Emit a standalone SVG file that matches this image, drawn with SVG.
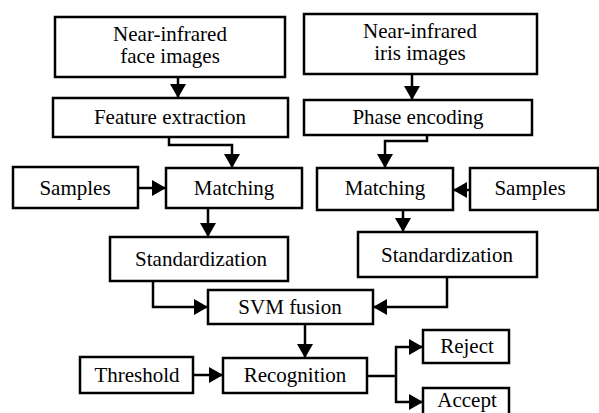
<svg xmlns="http://www.w3.org/2000/svg" width="599" height="413" viewBox="0 0 599 413" font-family="Liberation Serif, DejaVu Serif, serif">
  <style>
    .box { fill: #fff; stroke: #000; stroke-width: 2.5; }
    .lbl { font-family: 'Liberation Serif', 'DejaVu Serif', serif; font-size: 21px; fill: #000; text-anchor: middle; }
    .wire { fill: none; stroke: #000; stroke-width: 2.5; marker-end: url(#head); }
  </style>
  <defs>
    <marker id="head" markerUnits="userSpaceOnUse" markerWidth="14" markerHeight="16" refX="14" refY="8" orient="auto">
      <path d="M0,0 L14,8 L0,16 z" fill="#000"/>
    </marker>
  </defs>

  <rect width="599" height="413" fill="#fff"/>

  <g id="connectors">
    <path class="wire" d="M178,77 V98"/>
    <path class="wire" d="M169,137 V145 H232 V168"/>
    <path class="wire" d="M138,188 H166"/>
    <path class="wire" d="M208,208 V237"/>
    <path class="wire" d="M153,281 V307 H208"/>
    <path class="wire" d="M412,74 V100"/>
    <path class="wire" d="M427,135 V141 H385 V168"/>
    <path class="wire" d="M470,190 H453"/>
    <path class="wire" d="M403,210 V232"/>
    <path class="wire" d="M447,277 V307 H373"/>
    <path class="wire" d="M305,324 V358"/>
    <path class="wire" d="M193,375 H223"/>
    <path fill="none" stroke="#000" stroke-width="2.5" d="M367,376 H396"/>
    <path class="wire" d="M396,376 V347 H423"/>
    <path class="wire" d="M396,376 V402 H423"/>
  </g>

  <g id="face-images">
    <rect class="box" x="55" y="17" width="230" height="60"/>
    <text class="lbl" x="170" y="41">Near-infrared</text>
    <text class="lbl" x="170" y="63">face images</text>
  </g>
  <g id="feature-extraction">
    <rect class="box" x="53" y="98" width="235" height="39"/>
    <text class="lbl" x="170" y="124">Feature extraction</text>
  </g>
  <g id="samples-left">
    <rect class="box" x="13" y="167" width="125" height="41"/>
    <text class="lbl" x="75" y="195">Samples</text>
  </g>
  <g id="matching-left">
    <rect class="box" x="166" y="168" width="136" height="40"/>
    <text class="lbl" x="234" y="195">Matching</text>
  </g>
  <g id="standardization-left">
    <rect class="box" x="110" y="237" width="178" height="44"/>
    <text class="lbl" x="201" y="266">Standardization</text>
  </g>

  <g id="iris-images">
    <rect class="box" x="304" y="14" width="233" height="60"/>
    <text class="lbl" x="420" y="38">Near-infrared</text>
    <text class="lbl" x="420" y="60">iris images</text>
  </g>
  <g id="phase-encoding">
    <rect class="box" x="304" y="100" width="228" height="35"/>
    <text class="lbl" x="418" y="124">Phase encoding</text>
  </g>
  <g id="matching-right">
    <rect class="box" x="317" y="168" width="136" height="42"/>
    <text class="lbl" x="385" y="195">Matching</text>
  </g>
  <g id="samples-right">
    <rect class="box" x="470" y="168" width="128" height="42"/>
    <text class="lbl" x="530" y="195">Samples</text>
  </g>
  <g id="standardization-right">
    <rect class="box" x="358" y="232" width="179" height="45"/>
    <text class="lbl" x="447" y="262">Standardization</text>
  </g>

  <g id="svm-fusion">
    <rect class="box" x="208" y="290" width="165" height="34"/>
    <text class="lbl" x="290" y="314">SVM fusion</text>
  </g>
  <g id="threshold">
    <rect class="box" x="80" y="357" width="113" height="36"/>
    <text class="lbl" x="137" y="382">Threshold</text>
  </g>
  <g id="recognition">
    <rect class="box" x="223" y="358" width="144" height="35"/>
    <text class="lbl" x="295" y="382">Recognition</text>
  </g>
  <g id="reject">
    <rect class="box" x="423" y="330" width="86" height="33"/>
    <text class="lbl" x="467" y="353">Reject</text>
  </g>
  <g id="accept">
    <rect class="box" x="423" y="388" width="86" height="34"/>
    <text class="lbl" x="467" y="407">Accept</text>
  </g>
</svg>
